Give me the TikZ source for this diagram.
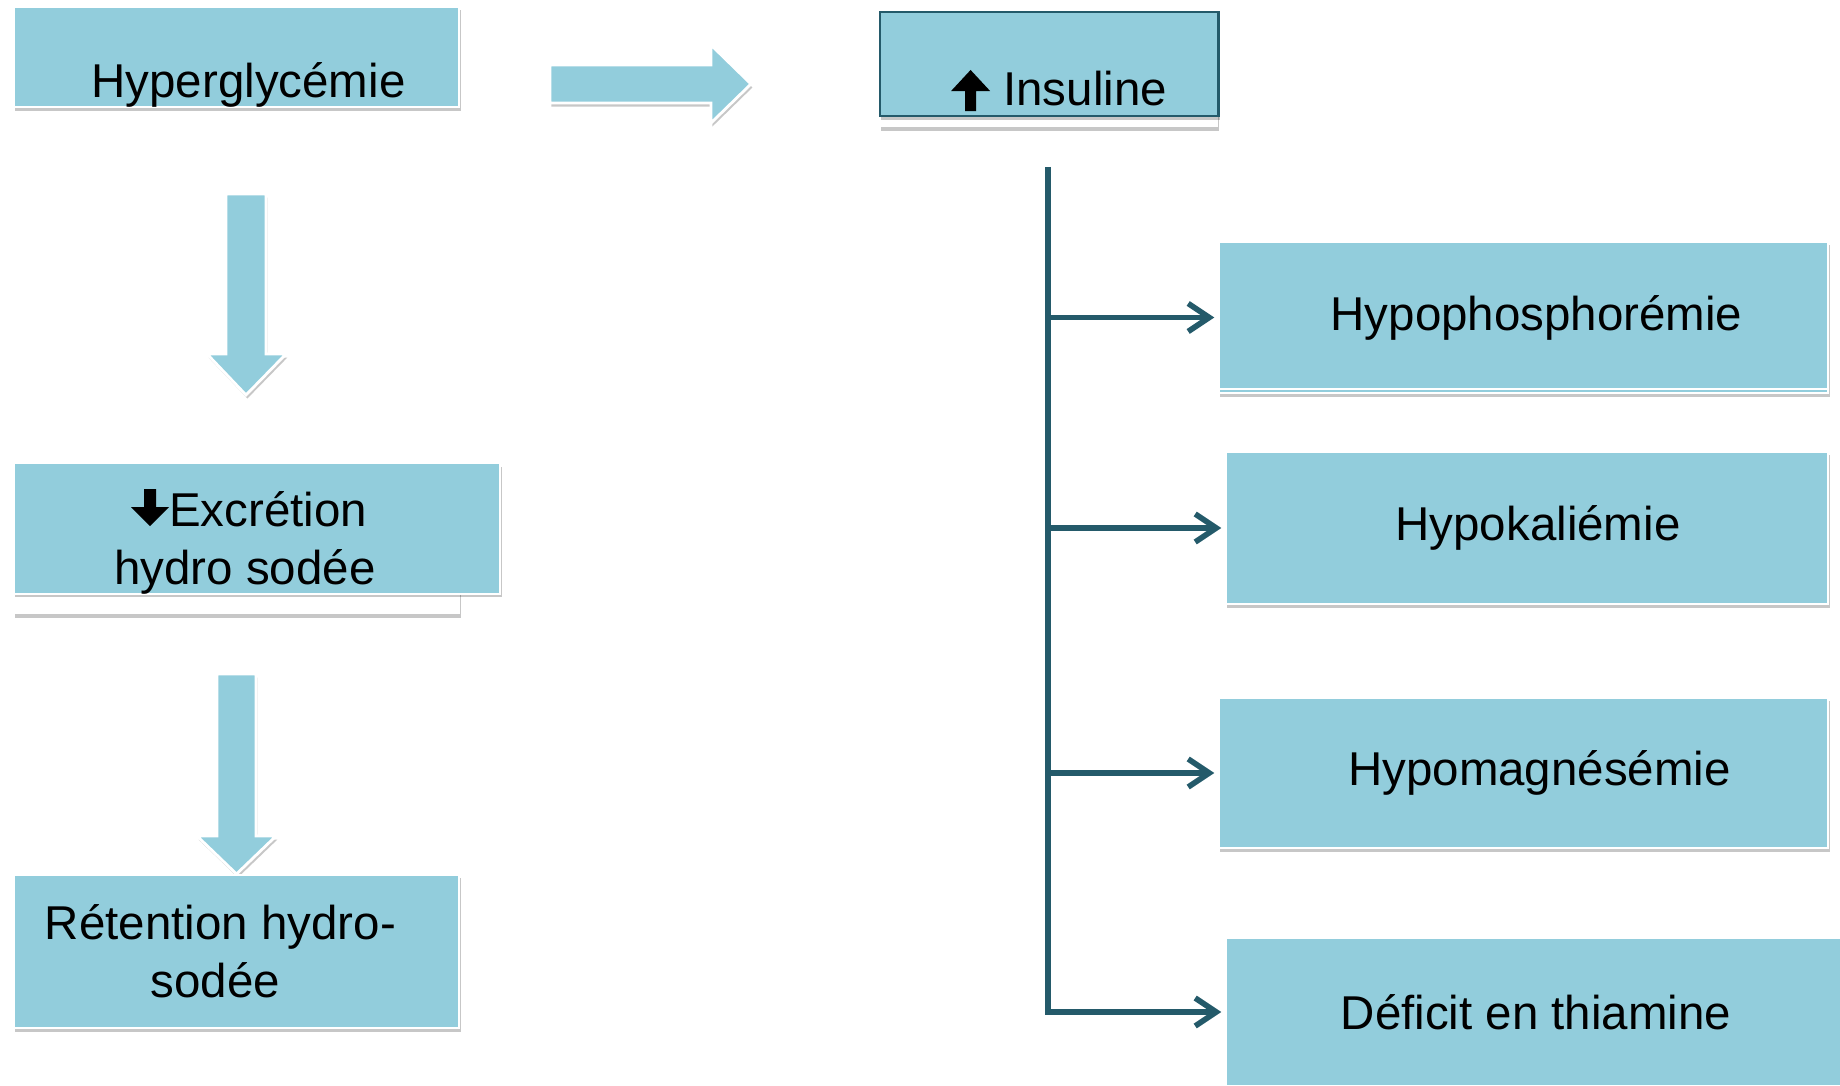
\documentclass[tikz,border=0pt]{standalone}
\usepackage{fontspec}
\setmainfont{Liberation Sans}
\usetikzlibrary{arrows.meta,shadows}
\definecolor{boxblue}{HTML}{92CDDC}
\definecolor{darkteal}{HTML}{245A6A}
\newcommand{\flechehaut}{\tikz[baseline=0.06cm,x=1cm,y=1cm]\fill (-0.055,0)--(-0.055,0.2)--(-0.195,0.2)--(0,0.41)--(0.195,0.2)--(0.055,0.2)--(0.055,0)--cycle;}
\newcommand{\flechebas}{\tikz[baseline=0cm,x=1cm,y=1cm]\fill (-0.06,0.37)--(-0.06,0.19)--(-0.19,0.19)--(0,0)--(0.19,0.19)--(0.06,0.19)--(0.06,0.37)--cycle;}
\begin{document}
\begin{tikzpicture}[x=0.01cm,y=-0.01cm,
    shade/.style={drop shadow={shadow xshift=0.4pt,shadow yshift=-1pt,opacity=0.22,fill=black}},
    box/.style={fill=boxblue,draw=white,line width=0.6pt,inner sep=0pt,align=center,
      font=\fontsize{13.5pt}{16.5pt}\selectfont,shade},
    bigarrow/.style={fill=boxblue,draw=white,line width=0.8pt,shade},
    conn/.style={darkteal,line width=1.6pt},
    tip/.style={-{Straight Barb[length=2.1mm,width=2.8mm]}}]
  \useasboundingbox (0,0) rectangle (1840,1086);

  % left column
  \node[box,minimum width=4.45cm,minimum height=1cm,text height=0.9cm,text depth=0.1cm] (hyper) at (236.5,57) {\hspace*{0.24cm}Hyperglycémie};
  \draw[bigarrow] (226,194) -- (266,194) -- (266,354) -- (286,354) -- (246,395) -- (207,354) -- (226,354) -- cycle;
  \fill[white,shade] (14,464) rectangle (460,614);
  \node[box,minimum width=4.86cm,minimum height=1.29cm] (excretion) at (257,528.5)
    {\rule{0pt}{0.63cm}\flechebas Excrétion\hspace*{0.16cm}\\hydro sodée\hspace*{0.24cm}};
  \draw[bigarrow] (217,674) -- (256,674) -- (256,836) -- (276,836) -- (236.5,874) -- (197,836) -- (217,836) -- cycle;
  \node[box,minimum width=4.45cm,minimum height=1.53cm] (retention) at (236.5,951.5)
    {Rétention hydro-\hspace*{0.32cm}\\sodée\hspace*{0.42cm}};

  % insuline
  \draw[bigarrow] (550,65) -- (711,65) -- (711,45) -- (751,84) -- (711,123) -- (711,103) -- (550,103) -- cycle;
  \fill[white,shade] (880,12) rectangle (1218,127);
  \node[box,draw=darkteal,line width=0.8pt,drop shadow={opacity=0},minimum width=3.38cm,minimum height=1.04cm,
    text height=0.92cm,text depth=0.1cm] (insuline) at (1049,64) {\hspace*{0.2cm}\flechehaut\ Insuline};

  % right column
  \node[box,minimum width=6.09cm,minimum height=1.51cm] (hypophos) at (1523.5,317.5) {\hspace*{0.26cm}Hypophosphorémie};
  \draw[white,line width=0.6pt] (hypophos.south west) ++(0,-5) -- ++(609,0);
  \node[box,minimum width=6.02cm,minimum height=1.52cm] (hypokal) at (1527,528) {\hspace*{0.22cm}Hypokaliémie};
  \node[box,minimum width=6.09cm,minimum height=1.5cm] (hypomag) at (1523.5,773) {\hspace*{0.32cm}Hypomagnésémie};
  \node[box,minimum width=6.2cm,minimum height=1.48cm] (deficit) at (1536,1012) {Déficit en thiamine};

  \coordinate (tronc) at (1048,167);
  \draw[conn,tip] (tronc) -- (tronc |- deficit.west) -- ([xshift=-1pt]deficit.west);
  \draw[conn,tip] (tronc |- hypophos.west) -- ([xshift=-1pt]hypophos.west);
  \draw[conn,tip] (tronc |- hypokal.west) -- ([xshift=-1pt]hypokal.west);
  \draw[conn,tip] (tronc |- hypomag.west) -- ([xshift=-1pt]hypomag.west);
\end{tikzpicture}
\end{document}
